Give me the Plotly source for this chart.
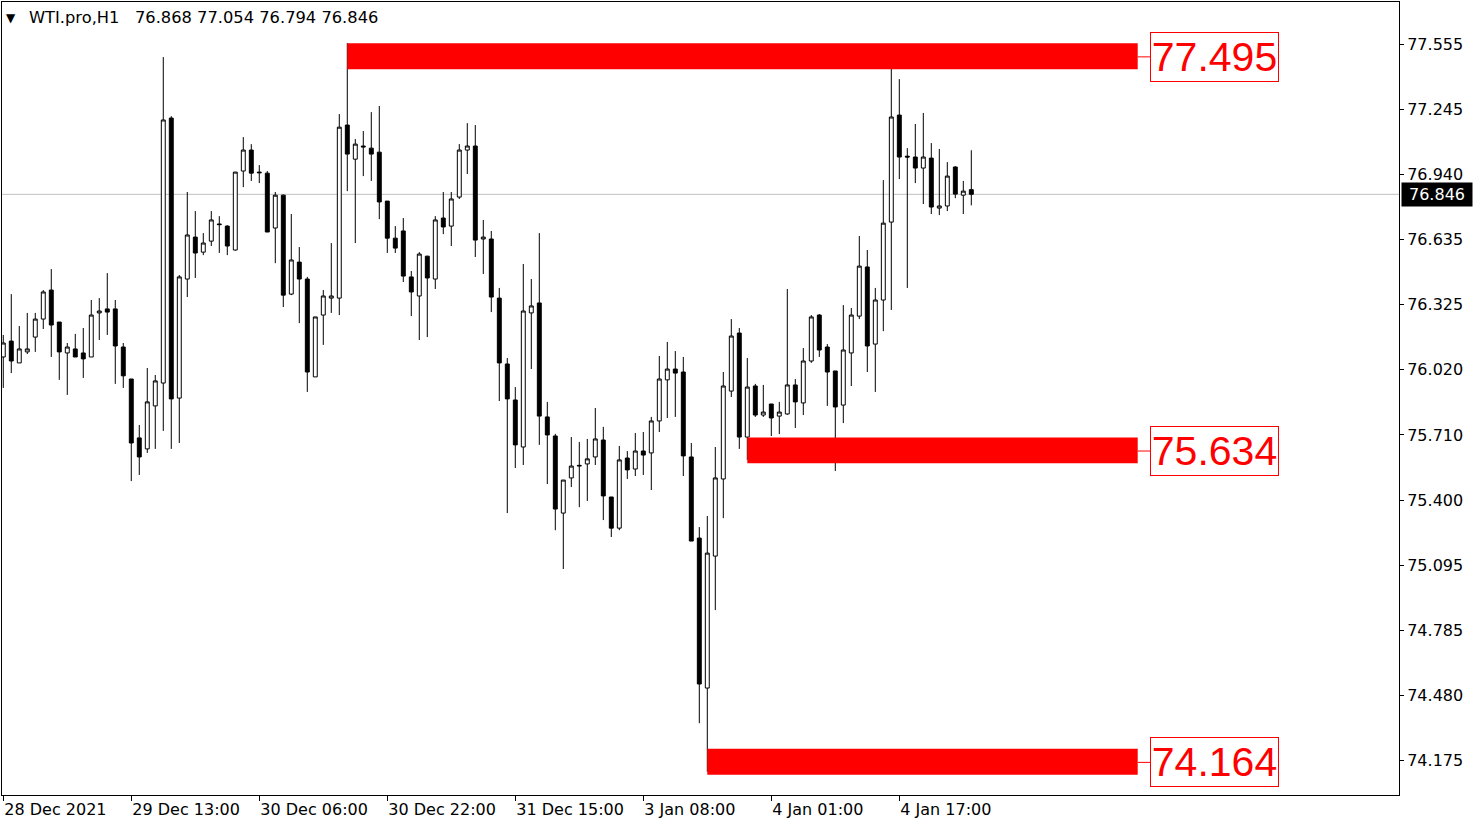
import plotly.graph_objects as go

symbol = "WTI.pro,H1"
header_values = ["76.868", "77.054", "76.794", "76.846"]

opens = [76.078, 76.153, 76.050, 76.102, 76.172, 76.257, 76.394, 76.243, 76.097, 76.116,
         76.097, 76.078, 76.286, 76.305, 76.305, 76.125, 75.974, 75.696, 75.644, 75.847,
         75.955, 77.206, 75.884, 76.446, 76.644, 76.573, 76.625, 76.706, 76.696, 76.583,
         76.956, 77.055, 76.951, 76.946, 76.687, 76.842, 76.375, 76.526, 76.446, 75.984,
         76.276, 76.356, 76.356, 77.173, 77.012, 77.074, 77.064, 77.045, 76.814, 76.639,
         76.673, 76.456, 76.366, 76.554, 76.446, 76.734, 76.696, 76.833, 77.055, 77.074,
         76.635, 76.635, 76.356, 76.045, 75.875, 75.653, 76.286, 76.333, 75.795, 75.705,
         75.341, 75.507, 75.563, 75.573, 75.606, 75.686, 75.417, 75.270, 75.601, 75.549,
         75.634, 75.625, 75.776, 75.970, 76.021, 76.007, 75.606, 75.223, 74.515, 75.138,
         75.502, 75.917, 76.191, 75.700, 75.941, 75.804, 75.856, 75.799, 75.809, 75.946,
         75.861, 76.059, 76.276, 76.125, 76.012, 75.851, 76.097, 76.271, 76.503, 76.139,
         76.347, 76.715, 77.220, 77.026, 77.022, 76.970, 77.017, 76.781, 76.791, 76.975,
         76.842, 76.868]
highs = [76.182, 76.375, 76.224, 76.286, 76.286, 76.394, 76.493, 76.243, 76.144, 76.187,
         76.215, 76.347, 76.356, 76.474, 76.347, 76.144, 75.974, 75.757, 76.026, 75.993,
         77.494, 77.215, 76.465, 76.857, 76.767, 76.663, 76.767, 76.743, 76.700, 76.951,
         77.116, 77.083, 76.984, 76.956, 76.857, 76.845, 76.753, 76.597, 76.456, 76.267,
         76.394, 76.616, 77.225, 77.560, 77.107, 77.145, 77.234, 77.263, 76.814, 76.696,
         76.734, 76.484, 76.573, 76.556, 76.743, 76.857, 76.857, 77.083, 77.182, 77.173,
         76.725, 76.673, 76.404, 76.073, 75.936, 76.517, 76.446, 76.663, 75.866, 75.715,
         75.497, 75.700, 75.677, 75.691, 75.837, 75.748, 75.417, 75.658, 75.634, 75.719,
         75.724, 75.795, 76.083, 76.149, 76.106, 76.078, 75.672, 75.275, 75.327, 75.653,
         76.007, 76.257, 76.215, 76.073, 75.951, 75.946, 75.856, 75.866, 76.399, 75.974,
         76.120, 76.276, 76.281, 76.139, 76.012, 76.323, 76.309, 76.649, 76.583, 76.404,
         76.913, 77.470, 77.390, 77.064, 77.178, 77.230, 77.088, 77.060, 76.998, 76.979,
         76.909, 77.054]
lows = [75.932, 76.002, 76.050, 76.092, 76.102, 76.210, 76.078, 75.970, 75.899, 76.078,
        75.979, 76.078, 76.158, 76.182, 75.951, 75.932, 75.492, 75.521, 75.625, 75.644,
        75.729, 75.644, 75.672, 76.361, 76.451, 76.559, 76.602, 76.569, 76.559, 76.580,
        76.880, 76.909, 76.899, 76.668, 76.521, 76.314, 76.370, 76.238, 75.913, 75.984,
        76.135, 76.286, 76.276, 76.861, 76.616, 76.932, 76.909, 76.729, 76.569, 76.569,
        76.432, 76.271, 76.158, 76.172, 76.399, 76.658, 76.602, 76.824, 76.942, 76.550,
        76.470, 76.290, 75.870, 75.341, 75.554, 75.568, 76.021, 75.663, 75.478, 75.260,
        75.077, 75.464, 75.369, 75.398, 75.568, 75.308, 75.228, 75.260, 75.502, 75.516,
        75.521, 75.450, 75.724, 75.790, 75.795, 75.516, 75.209, 74.349, 74.120, 74.883,
        75.317, 75.889, 75.644, 75.592, 75.795, 75.795, 75.705, 75.714, 75.805, 75.743,
        75.804, 76.050, 76.078, 75.847, 75.540, 75.766, 75.941, 76.257, 76.007, 75.913,
        76.200, 76.300, 76.918, 76.404, 76.899, 76.800, 76.753, 76.748, 76.767, 76.828,
        76.753, 76.794]
closes = [76.144, 76.059, 76.116, 76.116, 76.257, 76.385, 76.229, 76.102, 76.125, 76.078,
          76.069, 76.276, 76.295, 76.290, 76.130, 75.989, 75.672, 75.606, 75.866, 75.965,
          77.197, 75.880, 76.456, 76.654, 76.569, 76.616, 76.725, 76.703, 76.602, 76.951,
          77.055, 76.946, 76.948, 76.668, 76.842, 76.370, 76.536, 76.446, 76.007, 76.267,
          76.366, 76.366, 77.163, 77.036, 77.083, 77.070, 77.036, 76.810, 76.639, 76.592,
          76.460, 76.385, 76.564, 76.451, 76.725, 76.692, 76.824, 77.055, 77.074, 76.630,
          76.644, 76.361, 76.050, 75.880, 75.663, 76.295, 76.319, 75.799, 75.710, 75.360,
          75.497, 75.563, 75.566, 75.597, 75.691, 75.422, 75.270, 75.592, 75.545, 75.634,
          75.615, 75.776, 75.974, 76.021, 76.002, 75.611, 75.209, 74.534, 75.152, 75.507,
          75.941, 76.177, 75.700, 75.936, 75.804, 75.818, 75.790, 75.818, 75.946, 75.866,
          76.059, 76.267, 76.111, 76.007, 75.842, 76.111, 76.276, 76.507, 76.130, 76.347,
          76.710, 77.211, 77.022, 77.022, 76.970, 77.022, 76.786, 76.791, 76.932, 76.847,
          76.861, 76.846]

tick_idx = [0, 16, 32, 48, 64, 80, 96, 112]
tick_labels = ["28 Dec 2021", "29 Dec 13:00", "30 Dec 06:00", "30 Dec 22:00",
               "31 Dec 15:00", "3 Jan 08:00", "4 Jan 01:00", "4 Jan 17:00"]

price_ticks = [77.555, 77.245, 76.940, 76.635, 76.325, 76.020, 75.710, 75.400,
               75.095, 74.785, 74.480, 74.175]

levels = [77.495, 75.634, 74.164]
level_start = [43, 93, 88]
last_price = 76.846

x = list(range(len(opens)))

fig = go.Figure()
fig.add_trace(go.Candlestick(
    x=x, open=opens, high=highs, low=lows, close=closes,
    increasing=dict(line=dict(color="black", width=1), fillcolor="white"),
    decreasing=dict(line=dict(color="black", width=1), fillcolor="black"),
    whiskerwidth=0, showlegend=False, hoverinfo="skip",
))

# current price line
fig.add_shape(type="line", xref="paper", x0=0, x1=1, yref="y", y0=last_price, y1=last_price,
              line=dict(color="#c0c0c0", width=1), layer="below")

RECT_END = 141.8
for lv, st in zip(levels, level_start):
    fig.add_shape(type="rect", xref="x", yref="y", x0=st, x1=RECT_END,
                  y0=lv - 0.058, y1=lv + 0.064, fillcolor="#ff0000", line=dict(width=0),
                  layer="above")
    fig.add_shape(type="line", xref="x", yref="y", x0=RECT_END, x1=143.4, y0=lv, y1=lv,
                  line=dict(color="#ff0000", width=1))
    fig.add_annotation(xref="paper", yref="y", x=0.8218, y=lv, xanchor="left", yanchor="middle",
                       text=f"{lv:.3f}", showarrow=False, width=127, height=48,
                       bgcolor="white", bordercolor="#ff0000", borderwidth=1, borderpad=0,
                       font=dict(family="Liberation Sans", size=41, color="#ff0000"))

# current price tag
fig.add_annotation(xref="paper", yref="y", x=1, y=last_price, xanchor="left", yanchor="middle",
                   xshift=2, text=f"{last_price:.3f}", showarrow=False, bgcolor="black",
                   width=66, height=19, borderpad=2,
                   font=dict(family="DejaVu Sans", size=16, color="white"))

# header
fig.add_annotation(xref="paper", yref="paper", x=0, y=1, xanchor="left", yanchor="top",
                   xshift=2, yshift=-7, text="▼", showarrow=False,
                   font=dict(family="DejaVu Sans", size=12, color="black"))
fig.add_annotation(xref="paper", yref="paper", x=0, y=1, xanchor="left", yanchor="top",
                   xshift=25, yshift=-4,
                   text=symbol + "&nbsp;&nbsp;&nbsp;" + " ".join(header_values), showarrow=False,
                   font=dict(family="DejaVu Sans", size=16.3, color="black"))

fig.update_layout(
    width=1481, height=827,
    margin=dict(l=2, r=82, t=2, b=32),
    paper_bgcolor="white", plot_bgcolor="white",
    showlegend=False,
    xaxis=dict(range=[-0.16, 174.46], rangeslider=dict(visible=False), showgrid=False,
               zeroline=False, showline=True, linecolor="black", linewidth=1, mirror=True,
               tickmode="array", tickvals=tick_idx, ticktext=tick_labels,
               ticks="outside", ticklen=5, tickcolor="black",
               ticklabelposition="outside right",
               tickfont=dict(family="DejaVu Sans", size=16, color="black")),
    yaxis=dict(range=[74.010, 77.754], side="right", showgrid=False, zeroline=False,
               showline=True, linecolor="black", linewidth=1, mirror=True,
               tickmode="array", tickvals=price_ticks,
               ticktext=[f"{v:.3f}" for v in price_ticks],
               ticks="outside", ticklen=4, tickcolor="black",
               tickfont=dict(family="DejaVu Sans", size=16, color="black")),
)

fig.write_html("out.html", config={"displayModeBar": False},
               post_script="document.body.style.margin='0';document.body.style.overflow='hidden';")
